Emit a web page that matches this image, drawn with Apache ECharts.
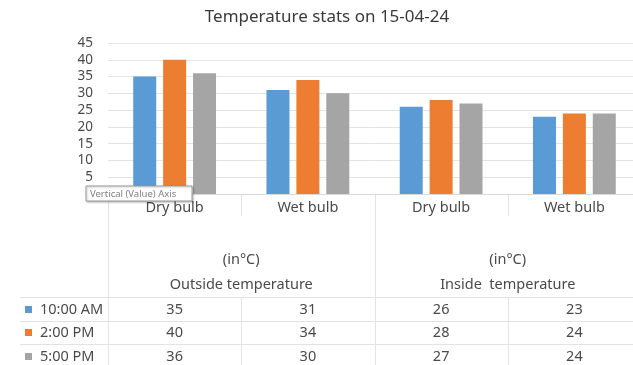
<!DOCTYPE html>
<html>
<head>
<meta charset="utf-8">
<script src="https://cdn.jsdelivr.net/npm/echarts@6/dist/echarts.min.js"></script>
<style>
html,body{margin:0;padding:0;background:#fff;overflow:hidden;width:633px;height:365px;}
#c{width:648px;height:365px;}
</style>
</head>
<body>
<div id="c"></div>
<script>
const titleText = 'Temperature stats on 15-04-24';
const categories = ['Dry bulb', 'Wet bulb', 'Dry bulb', 'Wet bulb'];
const groupNames = ['Outside temperature', 'Inside  temperature'];
const groupUnits = ['(in°C)', '(in°C)'];
const seriesNames = ['10:00 AM', '2:00 PM', '5:00 PM'];
const values10am = [35, 31, 26, 23];
const values2pm = [40, 34, 28, 24];
const values5pm = [36, 30, 27, 24];
const yMin = 0, yMax = 45, yStep = 5;
const tooltipText = 'Vertical (Value) Axis';

const colors = ['#5B9BD5', '#ED7D31', '#A5A5A5'];
const allValues = [values10am, values2pm, values5pm];
const FONT = '"Noto Sans", sans-serif';
const TXT = '#4a4a4a';
const LINE = '#e3e3e3';
const FS = 14.5;

const chart = echarts.init(document.getElementById('c'), null, {renderer: 'canvas'});
const option = {
  animation: false,
  backgroundColor: '#fff',
  textStyle: {fontFamily: FONT},
  title: {
    text: titleText, left: 322, textAlign: 'center', top: 4,
    textStyle: {fontFamily: FONT, fontSize: 17, fontWeight: 'normal', color: '#3a3a3a'}
  },
  grid: {left: 108, width: 533, top: 43, height: 151, containLabel: false},
  xAxis: {
    type: 'category', data: categories,
    axisLine: {lineStyle: {color: '#d9d9d9'}},
    axisTick: {show: false},
    axisLabel: {color: TXT, fontSize: FS, fontFamily: FONT, margin: 6, interval: 0}
  },
  yAxis: {
    type: 'value', min: yMin, max: yMax, interval: yStep,
    axisLine: {show: false}, axisTick: {show: false},
    axisLabel: {color: TXT, fontSize: 13.5, fontFamily: FONT, margin: 15},
    splitLine: {lineStyle: {color: LINE}}
  },
  series: seriesNames.map((n, i) => ({
    name: n, type: 'bar', data: allValues[i],
    barWidth: 23, barGap: '30%',
    itemStyle: {color: colors[i]}
  }))
};
chart.setOption(option);

const xs = categories.map((c, i) => chart.convertToPixel({xAxisIndex: 0}, i));
const band = xs[1] - xs[0];
const bounds = xs.map(x => Math.round(x - band / 2) + 0.5);
const axisY = chart.convertToPixel({yAxisIndex: 0}, 0);
const rowY = [310, 333, 357];
const hLines = [297.5, 321.5, 344.5];
const g = [];
hLines.forEach(y => g.push({type: 'line', shape: {x1: 20, y1: y, x2: 648, y2: y}, style: {stroke: LINE, lineWidth: 1}, silent: true}));
[bounds[0], bounds[2]].forEach(x => g.push({type: 'line', shape: {x1: x, y1: axisY, x2: x, y2: 365}, style: {stroke: LINE, lineWidth: 1}}));
[bounds[1], bounds[3]].forEach(x => {
  g.push({type: 'line', shape: {x1: x, y1: axisY, x2: x, y2: axisY + 22}, style: {stroke: LINE, lineWidth: 1}});
  g.push({type: 'line', shape: {x1: x, y1: hLines[0], x2: x, y2: 365}, style: {stroke: LINE, lineWidth: 1}});
});
groupNames.forEach((name, gi) => {
  const cx = (xs[gi * 2] + xs[gi * 2 + 1]) / 2;
  g.push({type: 'text', x: cx, y: 260, style: {text: groupUnits[gi], fill: TXT, font: FS + 'px ' + FONT, align: 'center', verticalAlign: 'middle'}});
  g.push({type: 'text', x: cx, y: 285, style: {text: name, fill: TXT, font: FS + 'px ' + FONT, align: 'center', verticalAlign: 'middle'}});
});
seriesNames.forEach((n, si) => {
  g.push({type: 'rect', shape: {x: 25, y: rowY[si] - 4, width: 7, height: 7}, style: {fill: colors[si]}});
  g.push({type: 'text', x: 40, y: rowY[si], style: {text: n, fill: TXT, font: FS + 'px ' + FONT, align: 'left', verticalAlign: 'middle'}});
  allValues[si].forEach((v, ci) => {
    g.push({type: 'text', x: xs[ci], y: rowY[si], style: {text: String(v), fill: TXT, font: FS + 'px ' + FONT, align: 'center', verticalAlign: 'middle'}});
  });
});
g.push({type: 'rect', z: 100, shape: {x: 86, y: 186, width: 106, height: 15},
  style: {fill: '#fff', stroke: '#9a9a9a', lineWidth: 1, shadowBlur: 2, shadowOffsetX: 1, shadowOffsetY: 1, shadowColor: 'rgba(0,0,0,0.25)'}});
g.push({type: 'text', z: 101, x: 90, y: 194, style: {text: tooltipText, fill: '#7f7f7f', font: '9.5px ' + FONT, align: 'left', verticalAlign: 'middle'}});
chart.setOption({graphic: {elements: g}});
</script>
</body>
</html>
